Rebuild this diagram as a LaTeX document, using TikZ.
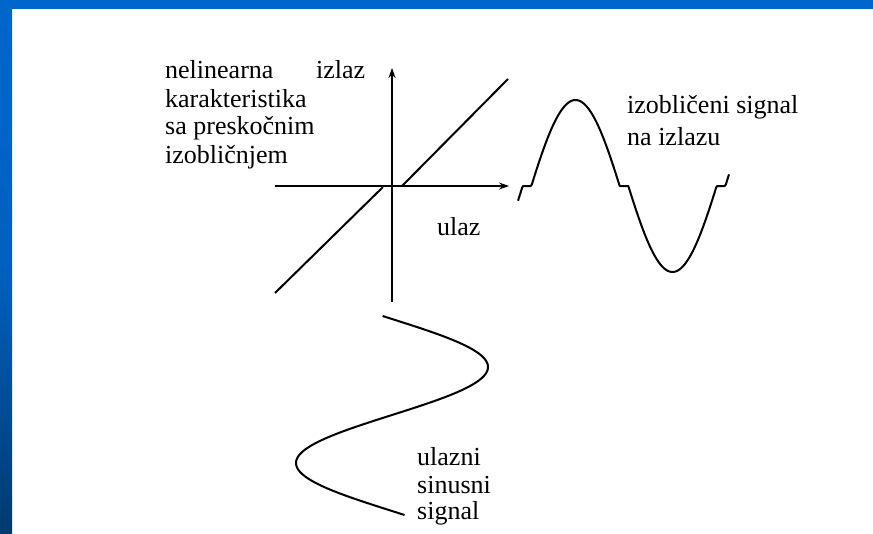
\documentclass[tikz,border=0pt]{standalone}
\usepackage{fontspec}
\setmainfont{Liberation Serif}
\usetikzlibrary{arrows.meta}
\definecolor{bandblue}{HTML}{0066CC}
\definecolor{bandnavy}{HTML}{003A70}
\begin{document}
\begin{tikzpicture}[x=1pt,y=-1pt,
  lbl/.style={anchor=west,inner sep=0pt,font=\fontsize{26}{29}\selectfont},
  axis/.style={line width=2pt,-{Stealth[length=10pt,width=7pt]}},
  curve/.style={line width=2pt,line join=round}]
\useasboundingbox (0,0) rectangle (873,533);
\fill[white] (0,0) rectangle (873,533);
\fill[bandblue] (0,0) rectangle (873,9);
\shade[top color=bandblue,bottom color=bandnavy,middle color=bandblue!85!bandnavy] (0,9) rectangle (12,533);
% axes
\coordinate (xl) at (275,186);
\coordinate (xr) at (509,186);
\coordinate (yb) at (392,302);
\coordinate (yt) at (392,68);
\draw[axis] (xl) -- (xr);
\draw[axis] (yb) -- (yt);
% characteristic
\coordinate (a1) at (275,293);
\coordinate (a2) at (383,187);
\coordinate (b1) at (402,186);
\coordinate (b2) at (508,79);
\draw[curve] (a1) -- (a2);
\draw[curve] (b1) -- (b2);
% output signal
\draw[curve] plot[domain=518:729,samples=200,smooth]
  (\x,{186-86*(max(sin((\x-527)*1.85567)-0.14,0)+min(sin((\x-527)*1.85567)+0.14,0))/0.86});
% input signal
\draw[curve] plot[domain=316:515,samples=200,smooth]
  ({392+96*sin((\x-319)*1.875)},\x);
% labels
\node[lbl] (t1) at (165,70) {nelinearna};
\node[lbl] (t2) at (316,70) {izlaz};
\node[lbl] (t3) at (165,99) {karakteristika};
\node[lbl] (t4) at (165,128) {sa preskočnim};
\node[lbl] (t5) at (165,157) {izobličnjem};
\node[lbl] (t6) at (437,227) {ulaz};
\node[lbl] (t7) at (627,107) {izobličeni signal};
\node[lbl] (t8) at (627,137) {na izlazu};
\node[lbl] (t9) at (417,457) {ulazni};
\node[lbl] (t10) at (417,485) {sinusni};
\node[lbl] (t11) at (417,513) {signal};
\end{tikzpicture}
\end{document}
